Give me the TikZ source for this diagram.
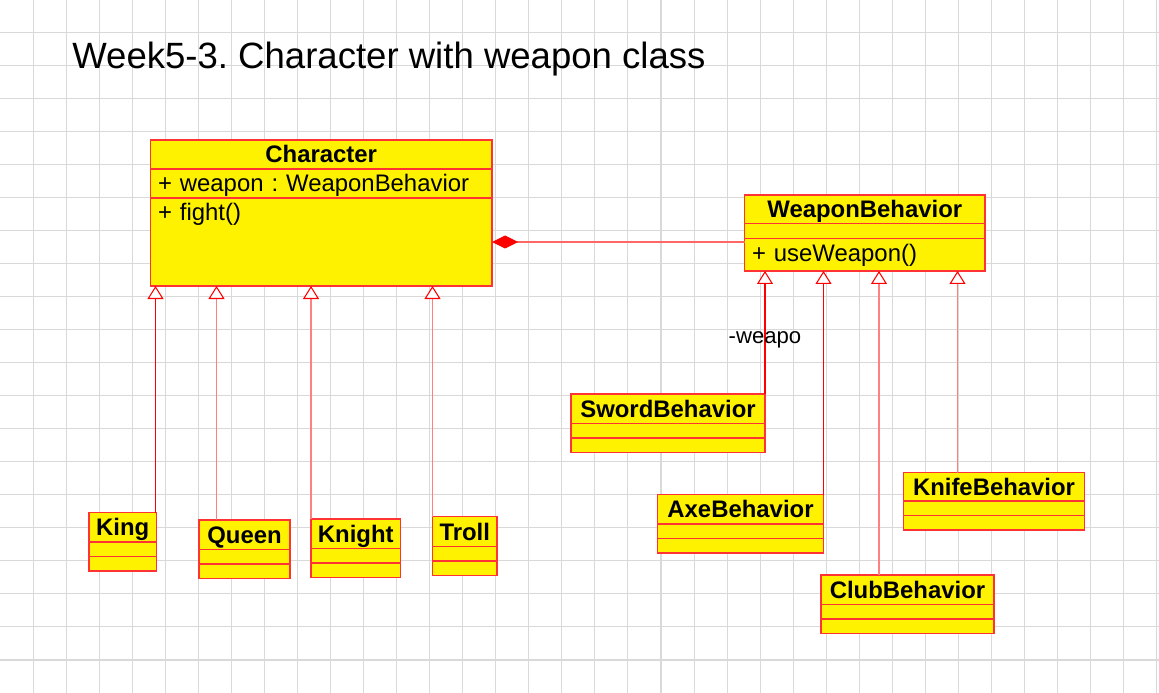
\documentclass[tikz,border=0pt]{standalone}
\usepackage{fontspec}
\setmainfont{Liberation Sans}
\usetikzlibrary{positioning,arrows.meta}

\begin{document}
\frenchspacing
\begin{tikzpicture}[
	classhead/.style={
		rectangle,
		draw=red!80,
		fill=yellow,
		line width=0.6pt,
		inner sep=0pt,
		outer sep=0pt,
		minimum height=0.59cm,
		text height=0.34cm,
		text depth=0pt,
		font=\fontsize{13.6pt}{16pt}\selectfont\bfseries
	},
	classpart/.style={
		rectangle,
		draw=red!80,
		fill=yellow,
		line width=0.6pt,
		inner sep=0pt,
		outer sep=0pt,
		minimum height=0.29cm
	},
	member/.style={
		classpart,
		align=left,
		inner xsep=0.15cm,
		text height=0.37cm,
		font=\fontsize{13.6pt}{16pt}\selectfont
	},
	inherit/.style={-{Triangle[length=0.26cm,width=0.32cm,fill=white,color=red]},line width=0.6pt,red},
	inheritlight/.style={inherit,red!50},
	compose/.style={-{Diamond[length=0.52cm,width=0.26cm,color=red,fill=red]},line width=0.6pt,red!60},
	gridline/.style={black!15,line width=0.6pt},
	title/.style={font=\fontsize{20.8pt}{25pt}\selectfont,inner sep=0pt},
	note/.style={font=\fontsize{12.6pt}{15pt}\selectfont,inner sep=0pt,text=black}
]

% Background grid
\useasboundingbox (0,0) rectangle (23.18,-13.86);
\fill[white] (0,0) rectangle (23.18,-13.86);
\foreach \i in {1,...,35}
	\draw[gridline] (\i*0.661,0) -- (\i*0.661,-13.86);
\foreach \j in {1,...,20}
	\draw[gridline] (0,-\j*0.661+0.02) -- (23.18,-\j*0.661+0.02);

% Title
\node[title,anchor=base west] (title) at (1.44,-1.38) {Week5-3. Character with weapon class};

% Character
\node[classhead,minimum width=6.83cm,minimum height=0.58cm,anchor=north west] (char) at (3.01,-2.80) {Character};
\node[member,below=0cm of char,text width=6.53cm,minimum height=0.58cm,text depth=0.03cm] (charAttr) {+ weapon : WeaponBehavior};
\node[member,below=0cm of charAttr,text width=6.53cm,minimum height=1.76cm,text depth=1.21cm] (charOps) {+ fight()};

% WeaponBehavior
\node[classhead,minimum width=4.81cm,minimum height=0.57cm,anchor=north west] (weap) at (14.89,-3.90) {WeaponBehavior};
\node[classpart,below=0cm of weap,minimum width=4.81cm,minimum height=0.30cm] (weapAttr) {};
\node[member,below=0cm of weapAttr,text width=4.51cm,minimum height=0.65cm,text depth=0.08cm] (weapOps) {+ useWeapon()};

% Characters
\node[classhead,minimum width=1.35cm,anchor=north west] (king) at (1.78,-10.25) {King};
\node[classpart,below=0cm of king,minimum width=1.35cm] (kingAttr) {};
\node[classpart,below=0cm of kingAttr,minimum width=1.35cm] (kingOps) {};

\node[classhead,minimum width=1.82cm,anchor=north west] (queen) at (3.98,-10.40) {Queen};
\node[classpart,below=0cm of queen,minimum width=1.82cm] (queenAttr) {};
\node[classpart,below=0cm of queenAttr,minimum width=1.82cm] (queenOps) {};

\node[classhead,minimum width=1.79cm,anchor=north west] (knight) at (6.22,-10.38) {Knight};
\node[classpart,below=0cm of knight,minimum width=1.79cm] (knightAttr) {};
\node[classpart,below=0cm of knightAttr,minimum width=1.79cm] (knightOps) {};

\node[classhead,minimum width=1.29cm,minimum height=0.60cm,anchor=north west] (troll) at (8.65,-10.33) {Troll};
\node[classpart,below=0cm of troll,minimum width=1.29cm] (trollAttr) {};
\node[classpart,below=0cm of trollAttr,minimum width=1.29cm] (trollOps) {};

% Weapons
\node[classhead,minimum width=3.88cm,anchor=north west] (sword) at (11.42,-7.88) {SwordBehavior};
\node[classpart,below=0cm of sword,minimum width=3.88cm] (swordAttr) {};
\node[classpart,below=0cm of swordAttr,minimum width=3.88cm] (swordOps) {};

\node[classhead,minimum width=3.32cm,anchor=north west] (axe) at (13.15,-9.89) {AxeBehavior};
\node[classpart,below=0cm of axe,minimum width=3.32cm] (axeAttr) {};
\node[classpart,below=0cm of axeAttr,minimum width=3.32cm] (axeOps) {};

\node[classhead,minimum width=3.62cm,minimum height=0.57cm,anchor=north west] (knife) at (18.07,-9.45) {KnifeBehavior};
\node[classpart,below=0cm of knife,minimum width=3.62cm] (knifeAttr) {};
\node[classpart,below=0cm of knifeAttr,minimum width=3.62cm] (knifeOps) {};

\node[classhead,minimum width=3.46cm,anchor=north west] (club) at (16.42,-11.50) {ClubBehavior};
\node[classpart,below=0cm of club,minimum width=3.46cm] (clubAttr) {};
\node[classpart,below=0cm of clubAttr,minimum width=3.46cm] (clubOps) {};

% Composition
\draw[compose] (weapOps.west |- charOps.east) -- (charOps.east);

% Inheritance: characters
\draw[inherit] ([xshift=-0.02cm]king.north east) -- ([xshift=-0.02cm]king.north east |- charOps.south);
\draw[inheritlight] ([xshift=0.35cm]queen.north west) -- ([xshift=0.35cm]queen.north west |- charOps.south);
\draw[inheritlight] (knight.north west) -- (knight.north west |- charOps.south);
\draw[inheritlight] (troll.north west) -- (troll.north west |- charOps.south);

% Inheritance: weapons
\draw[inherit] (sword.north east) -- node[note,anchor=base,pos=0.41] {-weapo} (sword.north east |- weapOps.south);
\draw[inherit] (axe.north east) -- (axe.north east |- weapOps.south);
\draw[inheritlight] ([xshift=1.16cm]club.north west) -- ([xshift=1.16cm]club.north west |- weapOps.south);
\draw[inheritlight] ([xshift=1.08cm]knife.north west) -- ([xshift=1.08cm]knife.north west |- weapOps.south);

\end{tikzpicture}
\end{document}
